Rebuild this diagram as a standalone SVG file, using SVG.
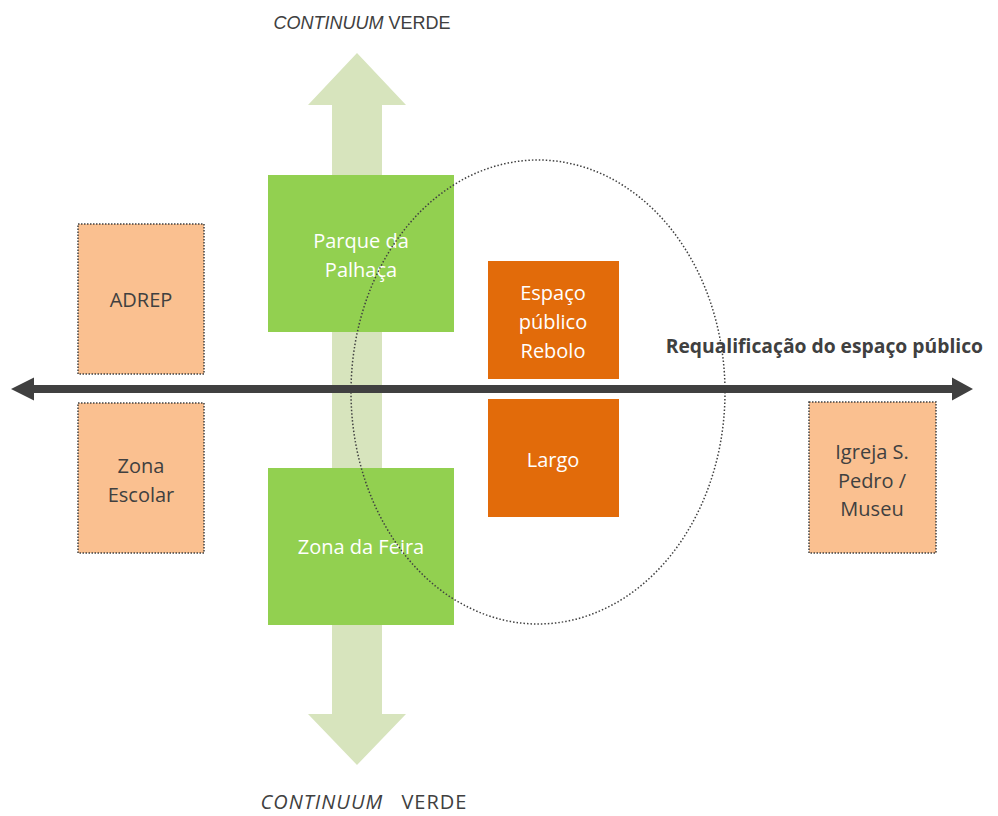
<svg xmlns="http://www.w3.org/2000/svg" width="998" height="816" viewBox="0 0 998 816">
<style>
.t{font-family:"Open Sans","Noto Sans","DejaVu Sans",sans-serif;font-size:20px;text-anchor:middle}
.w{fill:#ffffff}
.d{fill:#404040}
.peach{fill:#FAC090;stroke:#404040;stroke-width:1.5;stroke-dasharray:1.5 1.5}
.green{fill:#92D050}
.orange{fill:#E26B0A}
</style>
<rect width="998" height="816" fill="#ffffff"/>
<g id="continuum-verde">
<polygon points="357,53 406,105 382,105 382,714 406,714 357,765 308,714 332,714 332,105 308,105" fill="#D7E4BD"/>
<text x="362" y="29" font-family="'Liberation Sans',Arial,sans-serif" font-size="18" fill="#404040" text-anchor="middle"><tspan font-style="italic">CONTINUUM</tspan> VERDE</text>
<text class="t d" x="364" y="809" font-size="21" letter-spacing="1"><tspan font-style="italic">CONTINUUM</tspan><tspan dx="12"> VERDE</tspan></text>
</g>
<g id="adrep">
<rect class="peach" x="78" y="224" width="126" height="150"/>
<text class="t d" x="141" y="307">ADREP</text>
</g>
<g id="zona-escolar">
<rect class="peach" x="78" y="403" width="126" height="150"/>
<text class="t d" x="141" y="473">Zona</text>
<text class="t d" x="141" y="502">Escolar</text>
</g>
<g id="igreja">
<rect class="peach" x="809" y="402" width="127" height="151"/>
<text class="t d" x="872" y="459">Igreja S.</text>
<text class="t d" x="872" y="488">Pedro /</text>
<text class="t d" x="872" y="516">Museu</text>
</g>
<g id="parque-palhaca">
<rect class="green" x="268" y="175" width="186" height="157"/>
<text class="t w" x="361" y="248">Parque da</text>
<text class="t w" x="361" y="277">Palhaça</text>
</g>
<g id="zona-feira">
<rect class="green" x="268" y="468" width="186" height="157"/>
<text class="t w" x="361" y="554">Zona da Feira</text>
</g>
<g id="espaco-rebolo">
<rect class="orange" x="488" y="261" width="131" height="118"/>
<text class="t w" x="553" y="300">Espaço</text>
<text class="t w" x="553" y="329">público</text>
<text class="t w" x="553" y="358">Rebolo</text>
</g>
<g id="largo">
<rect class="orange" x="488" y="399" width="131" height="118"/>
<text class="t w" x="553" y="467">Largo</text>
</g>
<g id="connectors">
<polygon points="11,389 34,377.5 34,385 952,385 952,377.5 973,389 952,400.5 952,393 34,393 34,400.5" fill="#404040"/>
<text x="983" y="353" font-family="'Open Sans','Noto Sans',sans-serif" font-size="19.3" font-weight="bold" fill="#404040" text-anchor="end">Requalificação do espaço público</text>
</g>
<g id="ellipse-zone">
<ellipse cx="538" cy="392" rx="187" ry="232" fill="none" stroke="#404040" stroke-width="1.5" stroke-dasharray="1.5 2"/>
</g>
</svg>
